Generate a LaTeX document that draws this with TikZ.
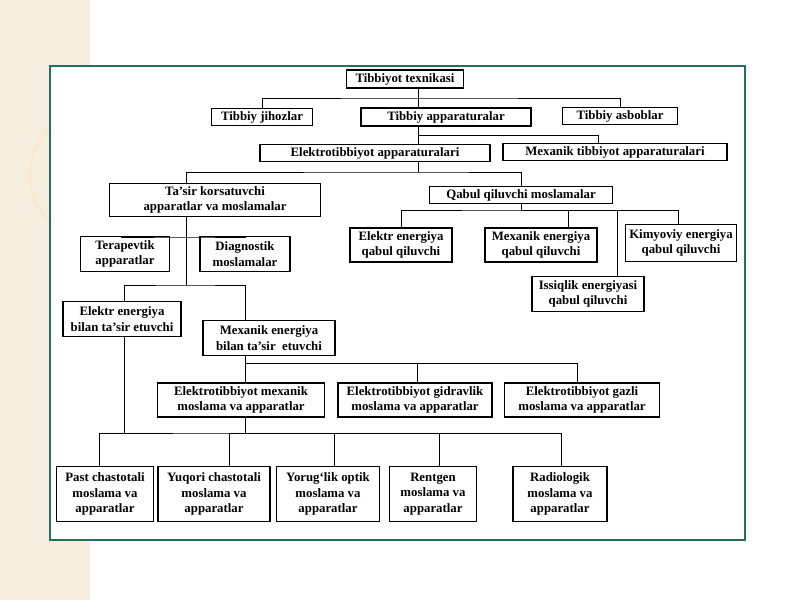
\documentclass[tikz,border=0pt]{standalone}
\usepackage{fontspec}
\setmainfont{Liberation Serif}
\definecolor{beige}{RGB}{246,238,222}
\definecolor{frame}{RGB}{40,110,95}
\begin{document}
\begin{tikzpicture}[x=0.75pt,y=-0.75pt,
  box/.style={draw,line width=0.8pt,fill=white,inner sep=0pt,align=center,
    font=\bfseries\fontsize{9.6}{11.5}\selectfont},
  ln/.style={line width=0.7pt}]
\useasboundingbox (0,0) rectangle (800,600);
\fill[white] (0,0) rectangle (800,600);
\fill[beige] (0,0) rectangle (90,600);
\draw[beige!80!orange!60!white,line width=2pt] (95,175) circle[radius=65];
\draw[line width=1.3pt,draw=frame,fill=white] (50,66) rectangle (745,540);
\newcommand\bx[6]{\node[box,minimum width=#4*0.75pt,minimum height=#5*0.75pt] (#1) at (#2,#3) {#6};}
\bx{t0}{405}{79}{117}{18}{Tibbiyot texnikasi}
\bx{jih}{262}{117}{101}{17}{Tibbiy jihozlar}
\bx{tap}{446}{117}{170}{18}{Tibbiy apparaturalar}
\bx{asb}{620}{116}{115}{17}{Tibbiy asboblar}
\bx{el}{375}{153}{230}{17}{Elektrotibbiyot apparaturalari}
\bx{mex}{615}{152}{224}{17}{Mexanik tibbiyot apparaturalari}
\bx{tas}{215}{200}{211}{33}{Ta'sir korsatuvchi\\apparatlar va moslamalar}
\bx{qab}{521}{195}{183}{17}{Qabul qiluvchi moslamalar}
\bx{eq}{401}{245}{102}{34}{Elektr energiya\\qabul qiluvchi}
\bx{mq}{541}{245}{112}{34}{Mexanik energiya\\qabul qiluvchi}
\bx{kq}{681}{243}{111}{37}{Kimyoviy energiya\\qabul qiluvchi}
\bx{iq}{588}{294}{112}{35}{Issiqlik energiyasi\\qabul qiluvchi}
\bx{ter}{125}{254}{89}{35}{Terapevtik\\apparatlar}
\bx{dia}{245}{254}{90}{35}{Diagnostik\\moslamalar}
\bx{eb}{122}{319}{118}{35}{Elektr energiya\\bilan ta'sir etuvchi}
\bx{mb}{269}{338}{132}{35}{Mexanik energiya\\bilan ta'sir \ etuvchi}
\bx{em}{241}{400}{167}{34}{Elektrotibbiyot mexanik\\moslama va apparatlar}
\bx{eg}{415}{400}{154}{34}{Elektrotibbiyot gidravlik\\moslama va apparatlar}
\bx{ez}{582}{400}{155}{34}{Elektrotibbiyot gazli\\moslama va apparatlar}
\bx{past}{105}{494}{97}{55}{Past chastotali\\moslama va\\apparatlar}
\bx{yuq}{214}{494}{112}{55}{Yuqori chastotali\\moslama va\\apparatlar}
\bx{yor}{328}{494}{103}{55}{Yorug`lik optik\\moslama va\\apparatlar}
\bx{ren}{433}{494}{87}{55}{Rentgen\\moslama va\\apparatlar}
\bx{rad}{560}{494}{94}{55}{Radiologik\\moslama va\\apparatlar}
\coordinate (j1) at (418,98);
\coordinate (j2) at (418,135);
\coordinate (j3) at (418,172);
\coordinate (j4) at (186,237);
\coordinate (j5) at (186,285);
\coordinate (j6) at (245,363);
\coordinate (j7) at (245,433);
\coordinate (j8) at (521,210);
\begin{scope}[ln]
\draw (t0.south -| j1) -- (j1);
\draw (jih.north) |- (j1) -| (asb.north);
\draw (j1) -- (tap.north -| j1);
\draw (tap.south -| j2) -- (el.north -| j2);
\draw (j2) -| ([xshift=-12.75pt]mex.north);
\draw (el.south -| j3) -- (j3);
\draw ([xshift=-21.75pt]tas.north) |- (j3) -| (qab.north);
\draw ([xshift=-21.75pt]tas.south) -- (j5);
\draw ([xshift=-3pt]ter.north) |- (j4) -| (dia.north);
\draw ([xshift=1.5pt]eb.north) |- (j5) -| ([xshift=-18pt]mb.north);
\draw ([xshift=-18pt]mb.south) -- (j6);
\draw ([xshift=3pt]em.north) |- (j6) -| ([xshift=1.5pt]eg.north);
\draw (j6) -| ([xshift=-3.75pt]ez.north);
\draw ([xshift=3pt]em.south) -- (j7);
\draw ([xshift=1.5pt]eb.south) -- ([xshift=1.5pt]eb.south |- j7);
\draw ([xshift=-4.5pt]past.north) |- (j7) -| ([xshift=0.75pt]rad.north);
\draw (j7) -| ([xshift=11.25pt]yuq.north);
\draw (j7) -| ([xshift=4.5pt]yor.north);
\draw (j7) -| ([xshift=4.5pt]ren.north);
\draw (qab.south) -- (j8);
\draw (eq.north) |- (j8) -| ([xshift=-2.25pt]kq.north);
\draw (j8) -| ([xshift=20.25pt]mq.north);
\draw (j8) -| ([xshift=21.75pt]iq.north);
\end{scope}
\end{tikzpicture}
\end{document}
